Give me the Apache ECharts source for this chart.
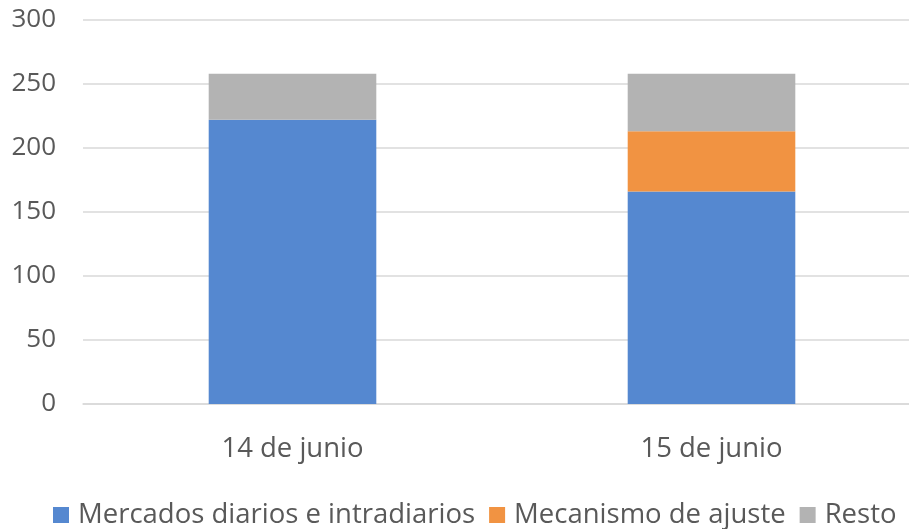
<!DOCTYPE html>
<html>
<head>
<meta charset="utf-8">
<script src="https://cdn.jsdelivr.net/npm/echarts@6/dist/echarts.min.js"></script>
<style>html,body{margin:0;padding:0;background:#fff}#c{width:909px;height:529px}</style>
</head>
<body>
<div id="c"></div>
<script>
const categories = ['14 de junio', '15 de junio'];
const seriesNames = ['Mercados diarios e intradiarios', 'Mecanismo de ajuste', 'Resto'];
const mercados = [222, 166];
const mecanismo = [0, 47];
const resto = [36, 45];
const yTicks = [0, 50, 100, 150, 200, 250, 300];

const colors = ['#5588D0', '#F19342', '#B3B3B3'];
const font = 'Open Sans';
const chart = echarts.init(document.getElementById('c'));
chart.setOption({
  animation: false,
  grid: { left: 83, width: 838, top: 20, height: 384, outerBoundsMode: 'none' },
  xAxis: {
    type: 'category', data: categories,
    axisTick: { show: false },
    axisLine: { lineStyle: { color: '#d9d9d9', width: 1.5 } },
    axisLabel: { color: '#595959', fontFamily: font, fontSize: 27.5, margin: 31 }
  },
  yAxis: {
    type: 'value', min: yTicks[0], max: yTicks[yTicks.length - 1], interval: 50,
    axisLine: { show: false }, axisTick: { show: false },
    splitLine: { lineStyle: { color: '#d9d9d9', width: 1.5 } },
    axisLabel: { color: '#595959', fontFamily: font, fontSize: 26, margin: 27 }
  },
  legend: {
    left: 48, top: 496, itemWidth: 16, itemHeight: 16, itemGap: 14,
    icon: 'rect',
    textStyle: { color: '#595959', fontFamily: font, fontSize: 27.5, padding: [0, 0, 0, 4] },
    data: seriesNames
  },
  series: [
    { name: seriesNames[0], type: 'bar', stack: 's', data: mercados, barWidth: '40%', itemStyle: { color: colors[0] } },
    { name: seriesNames[1], type: 'bar', stack: 's', data: mecanismo, itemStyle: { color: colors[1] } },
    { name: seriesNames[2], type: 'bar', stack: 's', data: resto, itemStyle: { color: colors[2] } }
  ]
});
</script>
</body>
</html>
